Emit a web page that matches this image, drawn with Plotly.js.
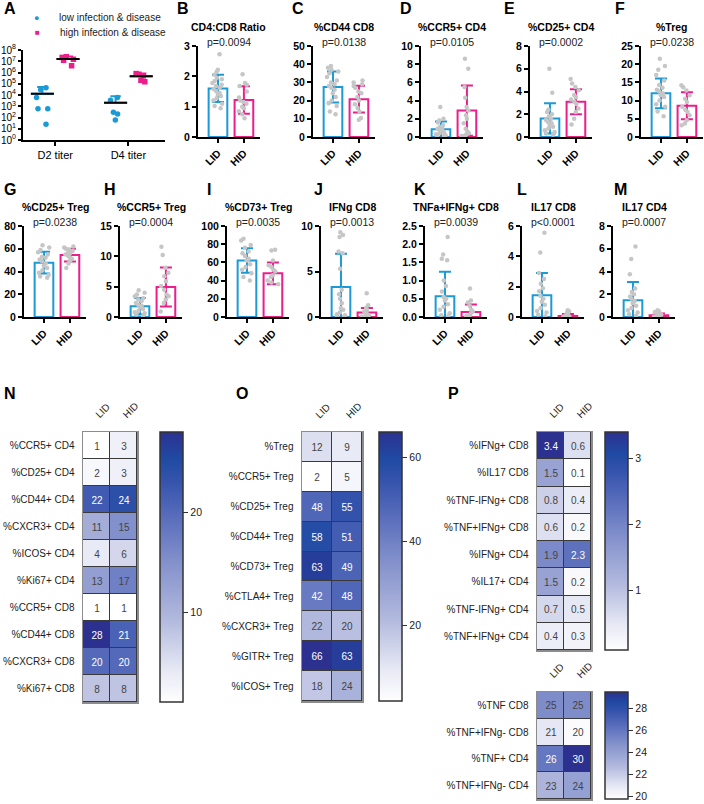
<!DOCTYPE html>
<html><head><meta charset="utf-8">
<script src="https://cdn.plot.ly/plotly-3.0.1.min.js"></script>
<style>html,body{margin:0;padding:0;background:#fff}</style>
</head><body><div id="chart" style="width:704px;height:804px"></div>
<script>
// ---------------- DATA ----------------
const groups = ['LID', 'HID'];
const titerCats = ['D2 titer', 'D4 titer'];
const legendNames = ['low infection & disease', 'high infection & disease'];

// Panel A (viral titers)
const lowD2 = [45000, 30000, 6000, 600, 600, 25];
const lowD4 = [6000, 3500, 300, 200, 60];
const highD2 = [25000000, 22000000, 15000000, 12000000, 4000000];
const highD4 = [800000, 700000, 500000, 200000, 150000];
const lowMean = [13000, 2000];
const lowSD = [38000, 5800];
const highMean = [16000000, 470000];
const highSD = [10000000, 340000];

// B CD4:CD8 Ratio
const ratioLID = [2.73, 2.22, 2.15, 2.05, 1.95, 1.9, 1.85, 1.78, 1.72, 1.68, 1.62, 1.58, 1.52, 1.45, 1.4, 1.35, 1.28, 1.2, 1.1, 1.02, 0.95];
const ratioHID = [2.07, 1.78, 1.72, 1.68, 1.5, 1.3, 1.2, 1.15, 1.1, 1.0, 0.95, 0.85, 0.75, 0.62];
const ratioMean = [1.6, 1.22], ratioSD = [0.45, 0.45];
// C %CD44 CD8
const cd44cd8LID = [39, 38, 37, 36, 35, 33, 31, 30, 29, 28, 27, 26, 24, 22, 20, 18.5, 17, 14, 12.5];
const cd44cd8HID = [31, 30, 29, 28, 27, 25, 24, 22, 20, 18, 16, 14, 10.5, 9.5];
const cd44cd8Mean = [27.5, 20.8], cd44cd8SD = [8.5, 7.3];
// D %CCR5+ CD4
const ccr5cd4LID = [3.3, 2.0, 1.8, 1.6, 1.3, 1.1, 1.0, 0.9, 0.8, 0.7, 0.6, 0.5, 0.4, 0.3, 0.2, 0.1, 0.1];
const ccr5cd4HID = [8.6, 7.5, 5.5, 4.3, 3.3, 2.9, 2.4, 2.0, 1.5, 0.9, 0.6, 0.4, 0.3, 0.2, 0.1];
const ccr5cd4Mean = [0.85, 2.9], ccr5cd4SD = [0.85, 2.75];
// E %CD25+ CD4
const cd25cd4LID = [6.0, 3.9, 2.4, 2.2, 2.0, 1.8, 1.6, 1.5, 1.3, 1.2, 1.0, 0.9, 0.75, 0.6, 0.45, 0.3, 0.2];
const cd25cd4HID = [5.1, 4.7, 4.4, 4.1, 3.7, 3.5, 3.3, 3.1, 2.9, 2.5, 2.2, 1.6, 1.1];
const cd25cd4Mean = [1.63, 3.1], cd25cd4SD = [1.33, 1.1];
// F %Treg
const tregLID = [21.5, 19.5, 18.5, 17, 15.5, 14.3, 13.5, 13, 12.5, 12, 11.5, 11, 10, 9, 8.3, 7, 5.7];
const tregHID = [14.2, 13.7, 12.8, 11.5, 10.5, 9.6, 8.3, 7.5, 6.9, 6.0, 4.6, 3.7, 3.2];
const tregMean = [12.0, 8.6], tregSD = [4.1, 3.7];
// G %CD25+ Treg
const cd25tregLID = [63, 61, 59, 57, 55, 53, 52, 50.5, 49, 47, 45, 43, 41, 39, 37, 35.5, 34.5];
const cd25tregHID = [62, 61, 60, 59, 58, 57, 56, 55, 53.5, 52, 51, 49, 47, 43];
const cd25tregMean = [47.8, 54.4], cd25tregSD = [9.5, 5.5];
// H %CCR5+ Treg
const ccr5tregLID = [4.4, 4.0, 3.7, 3.4, 3.1, 2.9, 2.6, 2.3, 2.0, 1.8, 1.6, 1.3, 1.0, 0.8, 0.6, 0.4, 0.2];
const ccr5tregHID = [11.6, 10.2, 8.1, 7.3, 6.7, 5.9, 5.1, 4.5, 3.7, 3.4, 2.9, 2.3, 0.9];
const ccr5tregMean = [1.77, 4.95], ccr5tregSD = [1.35, 3.2];
// I %CD73+ Treg
const cd73tregLID = [86, 84, 79, 76, 72, 70, 67, 64, 62, 58, 55, 52, 48, 44, 40];
const cd73tregHID = [74, 73, 62, 57, 55, 52, 50, 46, 44, 40, 38, 36];
const cd73tregMean = [62, 48], cd73tregSD = [13.5, 12];
// J IFNg CD8
const ifngcd8LID = [9.3, 9.0, 8.8, 7.2, 7.0, 5.3, 3.0, 2.5, 2.0, 1.5, 1.0, 0.8, 0.5, 0.3, 0.2, 0.1, 0.05];
const ifngcd8HID = [2.6, 1.3, 1.0, 0.8, 0.6, 0.4, 0.3, 0.2, 0.15, 0.1, 0.05];
const ifngcd8Mean = [3.3, 0.5], ifngcd8SD = [3.66, 0.5];
// K TNFa+IFNg+ CD8
const tnfifngcd8LID = [2.2, 1.72, 1.6, 1.56, 1.0, 0.85, 0.7, 0.55, 0.5, 0.45, 0.35, 0.28, 0.2, 0.1, 0.05, 0.02];
const tnfifngcd8HID = [0.78, 0.45, 0.4, 0.3, 0.2, 0.15, 0.1, 0.05, 0.03, 0.02];
const tnfifngcd8Mean = [0.57, 0.14], tnfifngcd8SD = [0.67, 0.2];
// L IL17 CD8
const il17cd8LID = [5.55, 4.25, 2.9, 2.5, 2.2, 1.9, 1.7, 1.4, 1.2, 1.0, 0.8, 0.6, 0.4, 0.3, 0.15, 0.05];
const il17cd8HID = [0.45, 0.38, 0.3, 0.2, 0.12, 0.08, 0.05, 0.04, 0.02, 0.01, 0.01, 0.0];
const il17cd8Mean = [1.43, 0.07], il17cd8SD = [1.47, 0.12];
// M IL17 CD4
const il17cd4LID = [6.2, 5.1, 3.75, 2.5, 2.2, 2.0, 1.8, 1.6, 1.4, 1.2, 1.0, 0.8, 0.6, 0.4, 0.25, 0.1];
const il17cd4HID = [0.6, 0.5, 0.45, 0.35, 0.25, 0.2, 0.15, 0.1, 0.05, 0.02];
const il17cd4Mean = [1.47, 0.15], il17cd4SD = [1.6, 0.15];

// Heatmap N
const nRows = ['%CCR5+ CD4', '%CD25+ CD4', '%CD44+ CD4', '%CXCR3+ CD4', '%ICOS+ CD4', '%Ki67+ CD4', '%CCR5+ CD8', '%CD44+ CD8', '%CXCR3+ CD8', '%Ki67+ CD8'];
const nLID = [1, 2, 22, 11, 4, 13, 1, 28, 20, 8];
const nHID = [3, 3, 24, 15, 6, 17, 1, 21, 20, 8];
// Heatmap O
const oRows = ['%Treg', '%CCR5+ Treg', '%CD25+ Treg', '%CD44+ Treg', '%CD73+ Treg', '%CTLA4+ Treg', '%CXCR3+ Treg', '%GITR+ Treg', '%ICOS+ Treg'];
const oLID = [12, 2, 48, 58, 63, 42, 22, 66, 18];
const oHID = [9, 5, 55, 51, 49, 48, 20, 63, 24];
// Heatmap P (upper)
const p1Rows = ['%IFNg+ CD8', '%IL17 CD8', '%TNF-IFNg+ CD8', '%TNF+IFNg+ CD8', '%IFNg+ CD4', '%IL17+ CD4', '%TNF-IFNg+ CD4', '%TNF+IFNg+ CD4'];
const p1LID = [3.4, 1.5, 0.8, 0.6, 1.9, 1.5, 0.7, 0.4];
const p1HID = [0.6, 0.1, 0.4, 0.2, 2.3, 0.2, 0.5, 0.3];
// Heatmap P (lower)
const p2Rows = ['%TNF CD8', '%TNF+IFNg- CD8', '%TNF+ CD4', '%TNF+IFNg- CD4'];
const p2LID = [25, 21, 26, 23];
const p2HID = [25, 20, 30, 24];

// ---------------- STYLE / LAYOUT ----------------
const FONT = 'Arial, "Liberation Sans", Helvetica, sans-serif';
const BLUE = '#1b9ad6', PINK = '#ec1e8b', GREY = '#c6c6c6';
const W = 704, H = 804;
const fx = p => p / W;
const fy = p => 1 - p / H;
const ax = (k, i) => (i === 1 ? k + 'axis' : k + 'axis' + i);
const ref = (k, i) => (i === 1 ? k : k + i);

const CSCALE = [[0, '#ffffff'], [0.12, '#e6e8f4'], [0.3, '#b3bade'], [0.5, '#8794cd'], [0.68, '#5a6ebc'], [0.82, '#3553ac'], [0.9, '#1f4aa3'], [1, '#2c3190']];

const layout = {
  width: W, height: H, margin: {l: 0, r: 0, t: 0, b: 0},
  paper_bgcolor: '#ffffff', plot_bgcolor: 'rgba(0,0,0,0)',
  font: {family: FONT, size: 10, color: '#000'},
  barmode: 'overlay', boxmode: 'group', boxgap: 0.3, boxgroupgap: 0.1,
  showlegend: false,
  annotations: [], shapes: []
};
const traces = [];

function letter(t, x, y) {
  layout.annotations.push({text: '<b>' + t + '</b>', xref: 'paper', yref: 'paper', x: fx(x), y: fy(y), xanchor: 'left', yanchor: 'middle', showarrow: false, font: {size: 16}});
}

// ---- Panel A ----
layout.xaxis = {domain: [fx(23), fx(165)], anchor: 'y', type: 'category', categoryorder: 'array', categoryarray: titerCats,
  range: [-0.44, 1.5], showline: true, linewidth: 2, linecolor: '#000', ticks: 'outside', ticklen: 4, tickwidth: 2,
  tickcolor: '#000', showgrid: false, zeroline: false, tickfont: {size: 11}};
const decades = [0, 1, 2, 3, 4, 5, 6, 7, 8];
layout.yaxis = {domain: [fy(140), fy(50)], anchor: 'x', type: 'log', range: [0, 8],
  tickvals: decades.map(d => Math.pow(10, d)), ticktext: decades.map(d => '10<sup>' + d + '</sup>'),
  showline: true, linewidth: 2, linecolor: '#000', ticks: 'outside', ticklen: 3, tickwidth: 2, tickcolor: '#000',
  showgrid: false, zeroline: false, tickfont: {size: 10}};

const rep = (arr, cat) => arr.map(() => cat);
const hidden = 'rgba(0,0,0,0)';
[[lowD2, lowD4, lowMean, lowSD, BLUE, 'circle', 'low'], [highD2, highD4, highMean, highSD, PINK, 'square', 'high']].forEach(g => {
  const [d2, d4, mean, sd, col, sym, og] = g;
  traces.push({type: 'box', x: rep(d2, titerCats[0]).concat(rep(d4, titerCats[1])), y: d2.concat(d4),
    offsetgroup: og, boxpoints: 'all', jitter: 0.6, pointpos: 0, fillcolor: hidden, line: {color: hidden, width: 0},
    marker: {color: col, size: 5.5, symbol: sym}, showlegend: false, hoverinfo: 'skip', xaxis: 'x', yaxis: 'y'});
  traces.push({type: 'box', x: titerCats, q1: mean, median: mean, q3: mean, lowerfence: mean,
    upperfence: mean.map((m, i) => m + sd[i]), offsetgroup: og, boxpoints: false, fillcolor: hidden,
    line: {color: col, width: 2}, whiskerwidth: 0.45, showlegend: false, hoverinfo: 'skip', xaxis: 'x', yaxis: 'y'});
  traces.push({type: 'box', x: titerCats, q1: mean, median: mean, q3: mean, lowerfence: mean, upperfence: mean,
    offsetgroup: og, boxpoints: false, fillcolor: hidden, line: {color: '#000', width: 2}, whiskerwidth: 0,
    showlegend: false, hoverinfo: 'skip', xaxis: 'x', yaxis: 'y'});
});
// legend for panel A
[[BLUE, '\u25CF', 36, 18, 57], [PINK, '\u25A0', 37, 33, 58]].forEach(([col, glyph, mx, my, tx], k) => {
  layout.annotations.push({text: glyph, xref: 'paper', yref: 'paper', x: fx(mx), y: fy(my), xanchor: 'center', yanchor: 'middle',
    showarrow: false, font: {size: k === 0 ? 9 : 8, color: col}});
  layout.annotations.push({text: legendNames[k], xref: 'paper', yref: 'paper', x: fx(tx), y: fy(my), xanchor: 'left', yanchor: 'middle',
    showarrow: false, font: {size: 10, color: '#222'}});
});
letter('A', 2, 9);

// ---- Bar panels B..M ----
const panels = [
  {L: 'B', title: 'CD4:CD8 Ratio', p: 'p=0.0094', lid: ratioLID, hid: ratioHID, mean: ratioMean, sd: ratioSD, ymax: 3, dtick: 1, x0: 198, row: 1, lx: 175},
  {L: 'C', title: '%CD44 CD8', p: 'p=0.0138', lid: cd44cd8LID, hid: cd44cd8HID, mean: cd44cd8Mean, sd: cd44cd8SD, ymax: 50, dtick: 10, x0: 313, row: 1, lx: 290},
  {L: 'D', title: '%CCR5+ CD4', p: 'p=0.0105', lid: ccr5cd4LID, hid: ccr5cd4HID, mean: ccr5cd4Mean, sd: ccr5cd4SD, ymax: 10, dtick: 2, x0: 421, row: 1, lx: 398},
  {L: 'E', title: '%CD25+ CD4', p: 'p=0.0002', lid: cd25cd4LID, hid: cd25cd4HID, mean: cd25cd4Mean, sd: cd25cd4SD, ymax: 8, dtick: 2, x0: 530, row: 1, lx: 502},
  {L: 'F', title: '%Treg', p: 'p=0.0238', lid: tregLID, hid: tregHID, mean: tregMean, sd: tregSD, ymax: 25, dtick: 5, x0: 641, row: 1, lx: 613},
  {L: 'G', title: '%CD25+ Treg', p: 'p=0.0238', lid: cd25tregLID, hid: cd25tregHID, mean: cd25tregMean, sd: cd25tregSD, ymax: 80, dtick: 20, x0: 24, row: 2, lx: 2},
  {L: 'H', title: '%CCR5+ Treg', p: 'p=0.0004', lid: ccr5tregLID, hid: ccr5tregHID, mean: ccr5tregMean, sd: ccr5tregSD, ymax: 15, dtick: 5, x0: 120, row: 2, lx: 102},
  {L: 'I', title: '%CD73+ Treg', p: 'p=0.0035', lid: cd73tregLID, hid: cd73tregHID, mean: cd73tregMean, sd: cd73tregSD, ymax: 100, dtick: 20, x0: 227, row: 2, lx: 205},
  {L: 'J', title: 'IFNg CD8', p: 'p=0.0013', lid: ifngcd8LID, hid: ifngcd8HID, mean: ifngcd8Mean, sd: ifngcd8SD, ymax: 10, dtick: 5, x0: 321, row: 2, lx: 312},
  {L: 'K', title: 'TNFa+IFNg+ CD8', p: 'p=0.0039', lid: tnfifngcd8LID, hid: tnfifngcd8HID, mean: tnfifngcd8Mean, sd: tnfifngcd8SD, ymax: 2.5, dtick: 0.5, fmt: '.1f', x0: 425, row: 2, lx: 412},
  {L: 'L', title: 'IL17 CD8', p: 'p<0.0001', lid: il17cd8LID, hid: il17cd8HID, mean: il17cd8Mean, sd: il17cd8SD, ymax: 6, dtick: 2, x0: 522, row: 2, lx: 515},
  {L: 'M', title: 'IL17 CD4', p: 'p=0.0007', lid: il17cd4LID, hid: il17cd4HID, mean: il17cd4Mean, sd: il17cd4SD, ymax: 8, dtick: 2, x0: 613, row: 2, lx: 612}
];
const PW = 62;
panels.forEach((pn, k) => {
  const i = k + 2;
  const yTop = pn.row === 1 ? 46 : 226, yBot = pn.row === 1 ? 137 : 317;
  layout[ax('x', i)] = {domain: [fx(pn.x0), fx(pn.x0 + PW)], anchor: ref('y', i), type: 'category', categoryorder: 'array',
    categoryarray: groups, range: [-0.77, 1.62], showline: true, linewidth: 2, linecolor: '#000', ticks: 'outside',
    ticklen: 4, tickwidth: 2, tickcolor: '#000', tickangle: -45, tickfont: {size: 10.5, weight: 'bold'}, showgrid: false, zeroline: false};
  layout[ax('y', i)] = {domain: [fy(yBot), fy(yTop)], anchor: ref('x', i), range: [0, pn.ymax], tick0: 0, dtick: pn.dtick,
    tickformat: pn.fmt || '', showline: true, linewidth: 2, linecolor: '#000', ticks: 'outside', ticklen: 4, tickwidth: 2,
    tickcolor: '#000', tickfont: {size: 10.5, weight: 'bold'}, showgrid: false, zeroline: false};
  [[0, BLUE], [1, PINK]].forEach(([g, col]) => {
    traces.push({type: 'bar', x: [groups[g]], y: [pn.mean[g]], width: 0.72, marker: {color: '#fff', line: {color: col, width: 2}},
      error_y: {type: 'data', array: [pn.sd[g]], visible: true, color: col, thickness: 2, width: 6},
      showlegend: false, hoverinfo: 'skip', xaxis: ref('x', i), yaxis: ref('y', i)});
  });
  traces.push({type: 'box', x: rep(pn.lid, groups[0]).concat(rep(pn.hid, groups[1])), y: pn.lid.concat(pn.hid),
    boxpoints: 'all', jitter: 0.75, pointpos: 0, fillcolor: hidden, line: {color: hidden, width: 0},
    marker: {color: GREY, size: 4.5}, showlegend: false, hoverinfo: 'skip', xaxis: ref('x', i), yaxis: ref('y', i)});
  const cx = fx(pn.x0 + PW / 2);
  const tY = pn.row === 1 ? 27 : 207;
  layout.annotations.push({text: '<b>' + pn.title + '</b>', xref: 'paper', yref: 'paper', x: cx, y: fy(tY), xanchor: 'center', yanchor: 'middle', showarrow: false, font: {size: 10.5}});
  layout.annotations.push({text: pn.p, xref: 'paper', yref: 'paper', x: cx, y: fy(tY + 15), xanchor: 'center', yanchor: 'middle', showarrow: false, font: {size: 10.5, color: '#222'}});
  letter(pn.L, pn.lx, pn.row === 1 ? 9 : 190);
});

// ---- Heatmaps ----
const heats = [
  {rows: nRows, a: nLID, b: nHID, x0: 83, x1: 137, y0: 432, y1: 702, cbx: 160, zmin: 1, zmax: 28, tv: [10, 20]},
  {rows: oRows, a: oLID, b: oHID, x0: 302, x1: 362, y0: 432, y1: 701, cbx: 379, zmin: 2, zmax: 66, tv: [20, 40, 60]},
  {rows: p1Rows, a: p1LID, b: p1HID, x0: 537, x1: 591, y0: 432, y1: 650, cbx: 605, zmin: 0.1, zmax: 3.4, tv: [1, 2, 3]},
  {rows: p2Rows, a: p2LID, b: p2HID, x0: 537, x1: 591, y0: 692, y1: 799, cbx: 605, zmin: 19.8, zmax: 29.5, tv: [20, 22, 24, 26, 28]}
];
heats.forEach((h, k) => {
  const i = 14 + k;
  layout[ax('x', i)] = {domain: [fx(h.x0), fx(h.x1)], anchor: ref('y', i), side: 'top', type: 'category',
    categoryorder: 'array', categoryarray: groups, range: [-0.5, 1.5], showticklabels: false,
    ticks: '', showline: true, mirror: true, linecolor: '#8c8c8c', linewidth: 1.5, showgrid: false, zeroline: false};
  layout[ax('y', i)] = {domain: [fy(h.y1), fy(h.y0)], anchor: ref('x', i), type: 'category',
    categoryorder: 'array', categoryarray: h.rows, range: [h.rows.length - 0.5, -0.5],
    ticks: '', showline: true, mirror: true, linecolor: '#8c8c8c', linewidth: 1.5, showgrid: false, zeroline: false,
    tickfont: {size: 10, color: '#222'}, ticklabelstandoff: 5};
  layout.shapes.push({type: 'rect', xref: ref('x', i) + ' domain', yref: ref('y', i) + ' domain', x0: 0, x1: 1, y0: 0, y1: 1,
    fillcolor: '#3a3a3a', line: {width: 0}, layer: 'below'});
  groups.forEach(gname => {
    layout.annotations.push({text: gname, xref: ref('x', i), yref: ref('y', i) + ' domain', x: gname, y: 1,
      xanchor: 'left', yanchor: 'bottom', xshift: -6, yshift: 9, textangle: -45, showarrow: false,
      font: {size: 10, color: '#222'}});
  });
  traces.push({type: 'heatmap', x: groups, y: h.rows, z: h.rows.map((_, r) => [h.a[r], h.b[r]]),
    zmin: h.zmin, zmax: h.zmax, colorscale: CSCALE, xgap: 1, ygap: 1, texttemplate: '%{z}', textfont: {size: 10},
    hoverinfo: 'skip', xaxis: ref('x', i), yaxis: ref('y', i),
    colorbar: {x: fx(h.cbx), xanchor: 'left', y: fy(h.y0), yanchor: 'top', len: h.y1 - h.y0, lenmode: 'pixels',
      thickness: 23, thicknessmode: 'pixels', outlinewidth: 1.5, outlinecolor: '#333', ticks: 'outside', ticklen: 5,
      tickwidth: 1, tickcolor: '#333', tickvals: h.tv, tickfont: {size: 10.5, color: '#222'}, xpad: 0, ypad: 0, borderwidth: 0}});
});
letter('N', 2, 393);
letter('O', 234, 393);
letter('P', 446, 393);

Plotly.newPlot('chart', traces, layout, {displayModeBar: false, staticPlot: true});
</script>
</body></html>
